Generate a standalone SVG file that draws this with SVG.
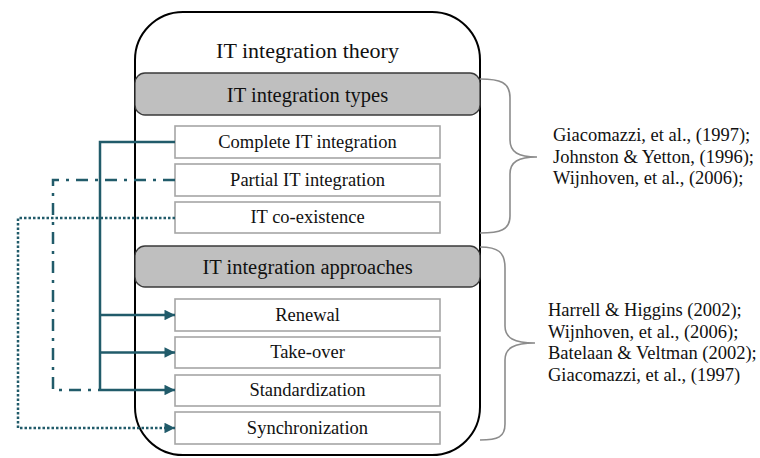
<svg xmlns="http://www.w3.org/2000/svg" width="760" height="458" viewBox="0 0 760 458">
  <defs>
    <marker id="arrow" viewBox="0 0 10 10" refX="10" refY="5" markerWidth="4.4" markerHeight="4.2" markerUnits="strokeWidth" orient="auto">
      <path d="M0,0 L10,5 L0,10 Z" fill="#215b6a"/>
    </marker>
    <style>
      text { fill: #111111; text-anchor: middle; }
      .title { font-size: 22px; }
      .head { font-size: 20.5px; }
      .item { font-size: 18.5px; }
      .ref { font-size: 18.5px; text-anchor: start; }
      .frame { fill: #ffffff; stroke: #000000; stroke-width: 2; }
      .header { fill: #bfbfbf; stroke: #3a3a3a; stroke-width: 1.3; }
      .box { fill: #ffffff; stroke: #a6a6a6; stroke-width: 1.6; }
      .brace { fill: none; stroke: #8c8c8c; stroke-width: 1.6; }
      .link { fill: none; stroke: #215b6a; stroke-width: 2.5; }
      .dashdot { stroke-dasharray: 12 7 3 7; }
      .dotted { stroke-dasharray: 2.5 2; }
    </style>
  </defs>

  <g font-family="'Liberation Serif', 'DejaVu Serif', serif">
  <!-- outer theory container -->
  <g id="theory">
    <rect class="frame" x="135" y="12" width="345" height="443" rx="48" ry="48"/>
    <text class="title" x="307.5" y="58">IT integration theory</text>
  </g>

  <!-- integration types -->
  <g id="types-header">
    <rect class="header" x="135" y="73" width="345" height="42" rx="10" ry="10"/>
    <text class="head" x="307.5" y="102">IT integration types</text>
  </g>
  <g id="complete">
    <rect class="box" x="175" y="126" width="265" height="32"/>
    <text class="item" x="307.5" y="148">Complete IT integration</text>
  </g>
  <g id="partial">
    <rect class="box" x="175" y="164" width="265" height="32"/>
    <text class="item" x="307.5" y="186">Partial IT integration</text>
  </g>
  <g id="coexistence">
    <rect class="box" x="175" y="202" width="265" height="31"/>
    <text class="item" x="307.5" y="223">IT co-existence</text>
  </g>

  <!-- integration approaches -->
  <g id="approaches-header">
    <rect class="header" x="135" y="246" width="345" height="41" rx="10" ry="10"/>
    <text class="head" x="307.5" y="274">IT integration approaches</text>
  </g>
  <g id="renewal">
    <rect class="box" x="175" y="299" width="265" height="32"/>
    <text class="item" x="307.5" y="321">Renewal</text>
  </g>
  <g id="takeover">
    <rect class="box" x="175" y="337" width="265" height="31"/>
    <text class="item" x="307.5" y="358">Take-over</text>
  </g>
  <g id="standardization">
    <rect class="box" x="175" y="375" width="265" height="31"/>
    <text class="item" x="307.5" y="396">Standardization</text>
  </g>
  <g id="synchronization">
    <rect class="box" x="175" y="412" width="265" height="32"/>
    <text class="item" x="307.5" y="434">Synchronization</text>
  </g>

  <!-- literature braces -->
  <g id="types-refs">
    <path class="brace" d="M480,79 C500,79 510,82 510,98 L510,140 C510,152 518,157 537,157 C518,157 510,162 510,174 L510,216 C510,230 500,233 480,233"/>
    <text class="ref" x="553" y="141">Giacomazzi, et al., (1997);</text>
    <text class="ref" x="553" y="162.5">Johnston &amp; Yetton, (1996);</text>
    <text class="ref" x="553" y="184">Wijnhoven, et al., (2006);</text>
  </g>
  <g id="approaches-refs">
    <path class="brace" d="M480,247 C498,247 505,252 505,268 L505,326 C505,338 514,343 535,343 C514,343 505,348 505,360 L505,424 C505,437 498,440 480,440"/>
    <text class="ref" x="548" y="316">Harrell &amp; Higgins (2002);</text>
    <text class="ref" x="548" y="337.5">Wijnhoven, et al., (2006);</text>
    <text class="ref" x="548" y="359">Batelaan &amp; Veltman (2002);</text>
    <text class="ref" x="548" y="380.5">Giacomazzi, et al., (1997)</text>
  </g>

  <!-- connectors from types to approaches -->
  <g id="connectors">
    <path class="link" d="M175,142 L100,142 L100,390"/>
    <path class="link" d="M100,315 L175,315" marker-end="url(#arrow)"/>
    <path class="link" d="M100,352.5 L175,352.5" marker-end="url(#arrow)"/>
    <path class="link" d="M100,390 L175,390" marker-end="url(#arrow)"/>
    <path class="link dashdot" d="M175,180 L53,180 L53,390 L100,390"/>
    <path class="link dotted" d="M175,218 L18,218 L18,428 L175,428" marker-end="url(#arrow)"/>
  </g>
  </g>
</svg>
